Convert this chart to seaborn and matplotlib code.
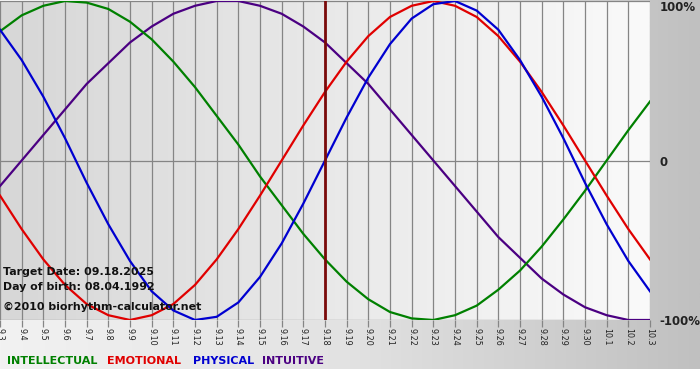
import numpy as np
import pandas as pd
import matplotlib
matplotlib.use("Agg")
import matplotlib.pyplot as plt
from matplotlib.colors import LinearSegmentedColormap
import seaborn as sns

# days shown on the x axis (month.day)
DAYS = ["9.3", "9.4", "9.5", "9.6", "9.7", "9.8", "9.9", "9.10", "9.11", "9.12",
        "9.13", "9.14", "9.15", "9.16", "9.17", "9.18", "9.19", "9.20", "9.21",
        "9.22", "9.23", "9.24", "9.25", "9.26", "9.27", "9.28", "9.29", "9.30",
        "10.1", "10.2", "10.3"]
TARGET_DAY = "9.18"

# cycle values per day, -1..1
physical = [0.82, 0.63, 0.40, 0.14, -0.14, -0.40, -0.63, -0.82, -0.94, -1.00,
            -0.98, -0.89, -0.73, -0.52, -0.27, 0.00, 0.27, 0.52, 0.73, 0.89,
            0.98, 1.00, 0.94, 0.82, 0.63, 0.40, 0.14, -0.14, -0.40, -0.63, -0.82]
emotional = [-0.22, -0.43, -0.62, -0.78, -0.90, -0.97, -1.00, -0.97, -0.90, -0.78,
             -0.62, -0.43, -0.22, 0.00, 0.22, 0.43, 0.62, 0.78, 0.90, 0.97,
             1.00, 0.97, 0.90, 0.78, 0.62, 0.43, 0.22, 0.00, -0.22, -0.43, -0.62]
intellectual = [0.81, 0.91, 0.97, 1.00, 0.99, 0.95, 0.87, 0.76, 0.62, 0.46,
                0.28, 0.10, -0.10, -0.28, -0.46, -0.62, -0.76, -0.87, -0.95, -0.99,
                -1.00, -0.97, -0.91, -0.81, -0.69, -0.54, -0.37, -0.19, 0.00, 0.19, 0.37]
intuitive = [-0.16, 0.00, 0.16, 0.32, 0.48, 0.61, 0.74, 0.84, 0.92, 0.97,
             1.00, 1.00, 0.97, 0.92, 0.84, 0.74, 0.61, 0.48, 0.32, 0.16,
             0.00, -0.16, -0.32, -0.48, -0.61, -0.74, -0.84, -0.92, -0.97, -1.00, -1.00]

RHYTHMS = ["INTELLECTUAL", "EMOTIONAL", "PHYSICAL", "INTUITIVE"]
COLORS = {"INTELLECTUAL": "#008000", "EMOTIONAL": "#e00000",
          "PHYSICAL": "#0000d0", "INTUITIVE": "#4b0082"}

W, H = 700, 380


def fx(px):
    return px / W


def fy(py):
    return 1 - py / H


def main():
    series = dict(zip(RHYTHMS, [intellectual, emotional, physical, intuitive]))
    rows = []
    for name in ["INTUITIVE", "INTELLECTUAL", "EMOTIONAL", "PHYSICAL"]:
        for i, v in enumerate(series[name]):
            rows.append({"day": i, "value": v, "rhythm": name})
    df = pd.DataFrame(rows)

    plt.rcParams["font.family"] = ["DejaVu Sans"]
    fig = plt.figure(figsize=(7, 3.8), dpi=100)
    fig.patch.set_facecolor("white")

    # grey panel behind everything
    bg = fig.add_axes([0, fy(369), 1, 369 / H])
    bg_cmap = LinearSegmentedColormap.from_list(
        "bg", [(0, "#f2f2f2"), (0.5, "#e2e2e2"), (1, "#c0c0c0")])
    bg.imshow(np.linspace(0, 1, 256)[None, :], aspect="auto", cmap=bg_cmap,
              extent=[0, 1, 0, 1])
    bg.set_axis_off()

    ax = fig.add_axes([0, fy(320), fx(650), 319 / H])
    n = len(DAYS) - 1
    plot_cmap = LinearSegmentedColormap.from_list("plot", ["#d7d7d7", "#fafafa"])
    ax.imshow(np.linspace(0, 1, 256)[None, :], aspect="auto", cmap=plot_cmap,
              extent=[0, n, -1, 1], zorder=0)

    for i in range(len(DAYS)):
        ax.axvline(i, color="#858585", lw=0.9, zorder=1)
    ax.axhline(0, color="#858585", lw=0.9, zorder=1)
    ax.axhline(1, color="#858585", lw=0.9, zorder=1)
    ax.axhline(-1, color="#858585", lw=0.9, zorder=1)

    sns.lineplot(data=df, x="day", y="value", hue="rhythm", palette=COLORS,
                 lw=1.6, legend=False, ax=ax, zorder=3)

    ax.axvline(DAYS.index(TARGET_DAY), color="#7a0a0a", lw=2.0, zorder=4)

    ax.set_xlim(0, n)
    ax.set_ylim(-1, 1)
    ax.set_xticks(range(len(DAYS)))
    ax.set_xticklabels(DAYS, rotation=270, fontsize=5.8, color="#222222")
    ax.tick_params(axis="x", length=5, width=0.9, color="#858585", pad=1)
    ax.yaxis.tick_right()
    ax.set_yticks([-1, 0, 1])
    ax.set_yticklabels(["-100%", "0", "100%"], fontsize=8.5, fontweight="bold",
                       color="#222222")
    ax.tick_params(axis="y", length=0, pad=7)
    ax.get_yticklabels()[2].set_verticalalignment("top")
    ax.set_xlabel("")
    ax.set_ylabel("")
    for s in ax.spines.values():
        s.set_visible(False)

    info = [("Target Date: 09.18.2025", 272), ("Day of birth: 08.04.1992", 287),
            ("\u00a92010 biorhythm-calculator.net", 307)]
    for txt, py in info:
        fig.text(fx(3), fy(py), txt, fontsize=7.9, fontweight="bold",
                 color="#111111", va="center", ha="left")

    legend_x = [7, 107, 193, 262]
    for name, px in zip(RHYTHMS, legend_x):
        fig.text(fx(px), fy(361), name, fontsize=8.0, fontweight="bold",
                 color=COLORS[name], va="center", ha="left")

    fig.savefig("out.png", dpi=100, facecolor=fig.get_facecolor())
    plt.close(fig)


if __name__ == "__main__":
    main()
